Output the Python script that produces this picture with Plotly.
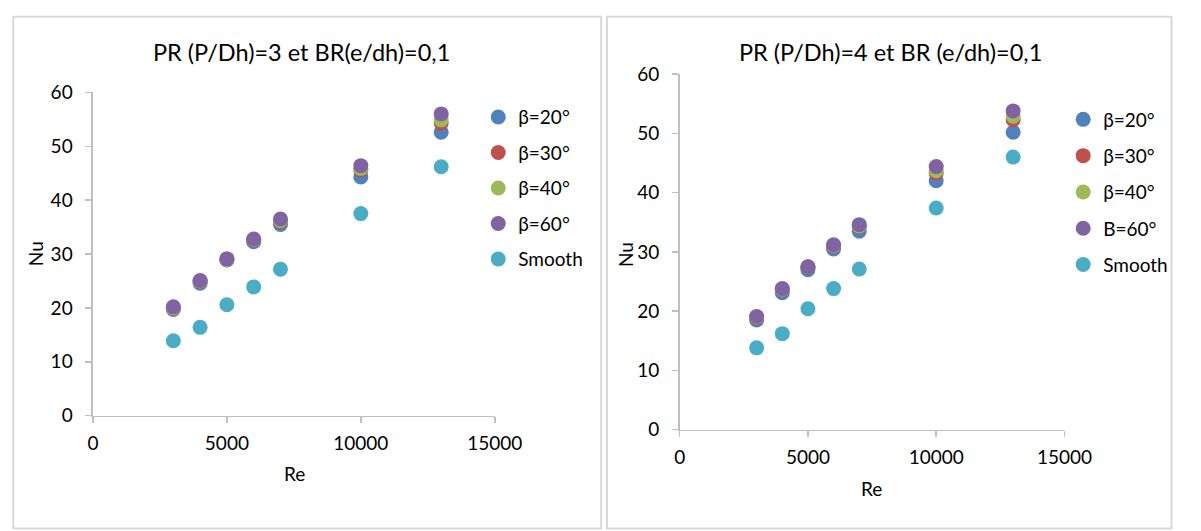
import plotly.graph_objects as go

W, H = 1201, 531

re_vals = [3000, 4000, 5000, 6000, 7000, 10000, 13000]

# Left chart: PR=3
left_b20 = [19.7, 24.6, 28.9, 32.3, 35.5, 44.3, 52.6]
left_b30 = [19.9, 24.9, 29.1, 32.6, 36.0, 45.6, 54.3]
left_b40 = [20.0, 25.0, 29.0, 32.7, 36.2, 45.9, 54.9]
left_b60 = [20.2, 25.1, 29.1, 32.8, 36.5, 46.4, 56.0]
left_smooth = [13.9, 16.4, 20.6, 23.9, 27.2, 37.5, 46.2]

# Right chart: PR=4
right_b20 = [18.5, 23.1, 27.0, 30.5, 33.5, 42.0, 50.2]
right_b30 = [18.9, 23.6, 27.4, 31.0, 34.3, 43.3, 52.3]
right_b40 = [19.0, 23.7, 27.5, 31.1, 34.4, 43.7, 52.9]
right_b60 = [19.1, 23.8, 27.5, 31.2, 34.6, 44.4, 53.8]
right_smooth = [13.8, 16.2, 20.4, 23.8, 27.1, 37.4, 46.0]

left_names = ["β=20°", "β=30°", "β=40°", "β=60°", "Smooth"]
right_names = ["β=20°", "β=30°", "β=40°", "B=60°", "Smooth"]
colors = ["#4F81BD", "#C0504D", "#9BBB59", "#8064A2", "#4BACC6"]

left_title = "PR (P/Dh)=3 et BR(e/dh)=0,1"
right_title = "PR (P/Dh)=4 et BR (e/dh)=0,1"

x_ticks = [0, 5000, 10000, 15000]
y_ticks = [0, 10, 20, 30, 40, 50, 60]

FONT = "Lato"
TXT = "#000000"
AX = "#BFBFBF"
TICK_SIZE = 19
LEG_SIZE = 19
TITLE_SIZE = 23.5


def px(x):
    return x / W


def py(y):
    return 1 - y / H


fig = go.Figure()

left_series = [left_b20, left_b30, left_b40, left_b60, left_smooth]
right_series = [right_b20, right_b30, right_b40, right_b60, right_smooth]

for i, (name, ys) in enumerate(zip(left_names, left_series)):
    fig.add_trace(go.Scatter(
        x=re_vals, y=ys, mode="markers", name=name,
        marker=dict(color=colors[i], size=15, line=dict(width=0)),
        xaxis="x", yaxis="y", legend="legend", legendgroup="L%d" % i,
    ))
for i, (name, ys) in enumerate(zip(right_names, right_series)):
    fig.add_trace(go.Scatter(
        x=re_vals, y=ys, mode="markers", name=name,
        marker=dict(color=colors[i], size=15, line=dict(width=0)),
        xaxis="x2", yaxis="y2", legend="legend2", legendgroup="R%d" % i,
    ))

axis_common = dict(
    showgrid=False, zeroline=False, showline=True, linecolor=AX, linewidth=1.5,
    ticks="outside", tickcolor=AX, ticklen=6, tickwidth=1.5,
    tickfont=dict(family=FONT, size=TICK_SIZE, color=TXT),
    fixedrange=True, tickformat="d",
)
x_common = dict(ticklabelstandoff=4, **axis_common)
y_common = dict(ticklabelstandoff=9, **axis_common)

fig.update_layout(
    width=W, height=H, autosize=False,
    margin=dict(l=0, r=0, t=0, b=0),
    paper_bgcolor="white", plot_bgcolor="white",
    font=dict(family=FONT, color=TXT),
    xaxis=dict(domain=[px(89.5), px(503)], range=[0, 15000], tickvals=x_ticks,
               anchor="y", **x_common),
    yaxis=dict(domain=[py(422), py(84)], range=[0, 60], tickvals=y_ticks,
               anchor="x", **y_common),
    xaxis2=dict(domain=[px(693.3), px(1089.3)], range=[0, 15000], tickvals=x_ticks,
                anchor="y2", **x_common),
    yaxis2=dict(domain=[py(436.5), py(65)], range=[0, 60], tickvals=y_ticks,
                anchor="x2", **y_common),
    legend=dict(x=px(486), y=py(90), xanchor="left", yanchor="top",
                font=dict(family=FONT, size=LEG_SIZE, color=TXT), tracegroupgap=7.8,
                bgcolor="rgba(0,0,0,0)", itemclick=False, itemdoubleclick=False),
    legend2=dict(x=px(1088), y=py(92.5), xanchor="left", yanchor="top",
                 font=dict(family=FONT, size=LEG_SIZE, color=TXT), tracegroupgap=8.6,
                 bgcolor="rgba(0,0,0,0)", itemclick=False, itemdoubleclick=False),
    showlegend=True,
)

ann_common = dict(xref="paper", yref="paper", showarrow=False,
                  xanchor="center", yanchor="middle")
annotations = [
    dict(text=left_title, x=px(304), y=py(42),
         font=dict(family=FONT, size=TITLE_SIZE, color=TXT), **ann_common),
    dict(text=right_title, x=px(910), y=py(42),
         font=dict(family=FONT, size=TITLE_SIZE, color=TXT), **ann_common),
    dict(text="Re", x=px(297), y=py(482),
         font=dict(family=FONT, size=TICK_SIZE, color=TXT), **ann_common),
    dict(text="Re", x=px(891), y=py(498),
         font=dict(family=FONT, size=TICK_SIZE, color=TXT), **ann_common),
    dict(text="Nu", x=px(30), y=py(253), textangle=-90,
         font=dict(family=FONT, size=TICK_SIZE, color=TXT), **ann_common),
    dict(text="Nu", x=px(637), y=py(253), textangle=-90,
         font=dict(family=FONT, size=TICK_SIZE, color=TXT), **ann_common),
]
fig.update_layout(annotations=annotations)

frame = dict(color="#D9D9D9", width=2)
shapes = [
    dict(type="rect", xref="paper", yref="paper", x0=px(7.5), x1=px(612.5), y0=py(540), y1=py(5),
         line=frame, fillcolor="rgba(0,0,0,0)", layer="below"),
    dict(type="rect", xref="paper", yref="paper", x0=px(618.5), x1=px(1199.5), y0=py(540), y1=py(5),
         line=frame, fillcolor="rgba(0,0,0,0)", layer="below"),
]
fig.update_layout(shapes=shapes)

post = (
    "document.documentElement.style.margin='0';"
    "document.documentElement.style.overflow='hidden';"
    "document.body.style.margin='0';"
    "document.body.style.overflow='hidden';"
    "var gd=document.getElementById('{plot_id}');"
    "gd.style.position='fixed';gd.style.left='0px';gd.style.top='0px';"
)

fig.write_html(
    "out.html",
    config={"displayModeBar": False, "staticPlot": True},
    post_script=post,
)
